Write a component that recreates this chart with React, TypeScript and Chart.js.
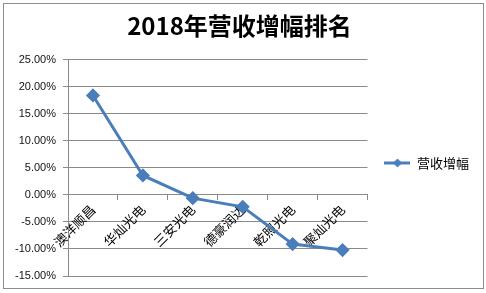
import React, { useEffect, useRef } from "react";
import { Chart, registerables } from "chart.js";

Chart.register(...registerables);

const companies = ["澳洋顺昌", "华灿光电", "三安光电", "德豪润达", "乾照光电", "聚灿光电"];
const growth = [18.4, 3.6, -0.6, -2.2, -9.1, -10.2];
const seriesName = "营收增幅";
const titleText = "2018年营收增幅排名";

const LINE_COLOR = "#4A7EBB";
const GRID_COLOR = "#8a8a8a";
const CJK = "'Noto Sans CJK SC', 'Noto Sans', sans-serif";

function legendSwatch(): HTMLCanvasElement {
  const c = document.createElement("canvas");
  c.width = 26;
  c.height = 12;
  const g = c.getContext("2d")!;
  g.strokeStyle = LINE_COLOR;
  g.lineWidth = 3;
  g.beginPath();
  g.moveTo(0, 6);
  g.lineTo(26, 6);
  g.stroke();
  g.fillStyle = LINE_COLOR;
  g.beginPath();
  g.moveTo(13, 1.5);
  g.lineTo(17.5, 6);
  g.lineTo(13, 10.5);
  g.lineTo(8.5, 6);
  g.closePath();
  g.fill();
  return c;
}

// white background, outer frame, and legend nudged to sit beside the plot's middle
const framePlugin = {
  id: "frame",
  afterLayout(chart: any) {
    const lg = chart.legend;
    if (lg) {
      lg.top += 21;
      lg.bottom += 21;
    }
  },
  beforeDraw(chart: Chart) {
    const ctx = chart.ctx;
    ctx.save();
    ctx.fillStyle = "#ffffff";
    ctx.fillRect(0, 0, chart.width, chart.height);
    ctx.restore();
  },
  afterDraw(chart: Chart) {
    const ctx = chart.ctx;
    ctx.save();
    ctx.strokeStyle = "#8c8c8c";
    ctx.lineWidth = 1;
    ctx.strokeRect(3.5, 3.5, 480, 285);
    ctx.restore();
  },
};

export default function App() {
  const ref = useRef<HTMLCanvasElement>(null);

  useEffect(() => {
    const swatch = legendSwatch();
    const chart = new Chart(ref.current!, {
      type: "line",
      data: {
        labels: companies,
        datasets: [
          {
            label: seriesName,
            data: growth,
            borderColor: LINE_COLOR,
            backgroundColor: LINE_COLOR,
            borderWidth: 3,
            pointStyle: "rectRot",
            pointRadius: 5,
            pointHoverRadius: 5,
            tension: 0,
          },
        ],
      },
      options: {
        responsive: false,
        animation: false,
        layout: { padding: { top: 8, left: 0, right: 7, bottom: 17 } },
        scales: {
          x: {
            type: "category",
            position: { y: 0 } as any,
            offset: true,
            grid: {
              display: true,
              drawOnChartArea: false,
              drawTicks: true,
              tickLength: 5,
              offset: true,
              color: GRID_COLOR,
            },
            border: { display: true, color: GRID_COLOR, width: 1 },
            ticks: {
              minRotation: 45,
              maxRotation: 45,
              autoSkip: false,
              padding: 2,
              color: "#000",
              font: { family: CJK, size: 13 },
            },
          },
          y: {
            min: -15,
            max: 25,
            afterFit(scale: any) {
              scale.width = 68;
            },
            ticks: {
              stepSize: 5,
              padding: 7,
              color: "#111",
              font: { family: "'Liberation Sans', Arial, sans-serif", size: 11 },
              callback: (v: any) => Number(v).toFixed(2) + "%",
            },
            grid: { color: GRID_COLOR, tickLength: 5, drawTicks: true },
            border: { display: true, color: GRID_COLOR, width: 1 },
          },
        },
        plugins: {
          title: {
            display: true,
            text: titleText,
            color: "#000",
            font: { family: CJK, size: 24, weight: "bold" },
            padding: { top: 3, bottom: 20 },
          },
          legend: {
            position: "right",
            labels: {
              usePointStyle: true,
              pointStyleWidth: 26,
              padding: 17,
              color: "#000",
              font: { family: CJK, size: 13 },
              generateLabels: () => [
                {
                  text: seriesName,
                  pointStyle: swatch as any,
                  fillStyle: LINE_COLOR,
                  strokeStyle: LINE_COLOR,
                  lineWidth: 0,
                  hidden: false,
                  datasetIndex: 0,
                },
              ],
            },
          },
          tooltip: { enabled: false },
        },
      },
      plugins: [framePlugin],
    });
    return () => chart.destroy();
  }, []);

  return (
    <div style={{ position: "fixed", left: 0, top: 0, width: 486, height: 293 }}>
      <canvas ref={ref} width={486} height={293} />
    </div>
  );
}
